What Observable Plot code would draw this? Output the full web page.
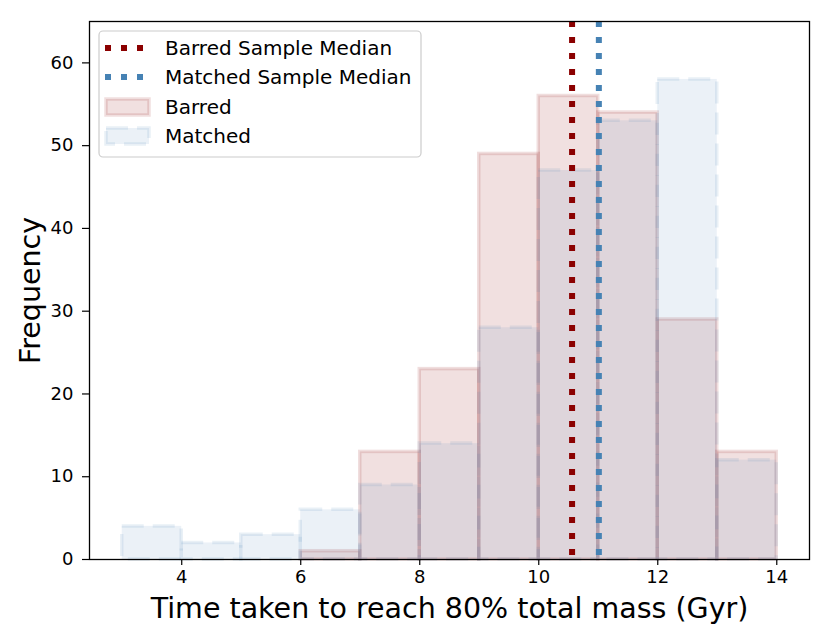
<!DOCTYPE html>
<html>
<head>
<meta charset="utf-8">
<script src="https://cdn.jsdelivr.net/npm/d3@7"></script>
<script src="https://cdn.jsdelivr.net/npm/@observablehq/plot@0.6"></script>
<style>
  html, body { margin: 0; padding: 0; background: white; }
  #chart { position: relative; width: 831px; height: 642px; }
</style>
</head>
<body>
<div id="chart"></div>
<script>
// ---- data ----
const binStarts = [3, 4, 5, 6, 7, 8, 9, 10, 11, 12, 13];
const binWidth = 1;
const barredCounts = [0, 0, 0, 1, 13, 23, 49, 56, 54, 29, 13];
const matchedCounts = [4, 2, 3, 6, 9, 14, 28, 47, 53, 58, 12];
const barredMedian = 10.56;
const matchedMedian = 11.01;
const xTicks = [4, 6, 8, 10, 12, 14];
const yTicks = [0, 10, 20, 30, 40, 50, 60];
const xLabel = "Time taken to reach 80% total mass (Gyr)";
const yLabel = "Frequency";
const legendLabels = ["Barred Sample Median", "Matched Sample Median", "Barred", "Matched"];

const barredColor = "#8b0000";
const matchedColor = "#4682b4";

const barred = binStarts.map((x, i) => ({x1: x, x2: x + binWidth, y: barredCounts[i]}));
const matched = binStarts.map((x, i) => ({x1: x, x2: x + binWidth, y: matchedCounts[i]}));

const plot = Plot.plot({
  width: 831,
  height: 642,
  marginLeft: 89,
  marginRight: 22,
  marginTop: 21,
  marginBottom: 83,
  style: {fontFamily: "DejaVu Sans", fontSize: "18px", color: "black", background: "white"},
  x: {domain: [2.45, 14.55], ticks: xTicks},
  y: {domain: [0, 65], ticks: yTicks},
  marks: [
    Plot.rectY(barred, {
      x1: "x1", x2: "x2", y1: 0, y2: "y",
      fill: barredColor, fillOpacity: 0.12,
      stroke: barredColor, strokeOpacity: 0.13, strokeWidth: 3.5
    }),
    Plot.rectY(matched, {
      x1: "x1", x2: "x2", y1: 0, y2: "y",
      fill: matchedColor, fillOpacity: 0.11,
      stroke: matchedColor, strokeOpacity: 0.12, strokeWidth: 3.5,
      strokeDasharray: "22,9"
    }),
    Plot.ruleX([barredMedian], {stroke: barredColor, strokeWidth: 6, strokeDasharray: "6,10"}),
    Plot.ruleX([matchedMedian], {stroke: matchedColor, strokeWidth: 6, strokeDasharray: "6,10"}),
    Plot.frame({stroke: "black", strokeWidth: 1.3}),
    Plot.axisX({ticks: xTicks, tickSize: 6, tickPadding: 5, label: null, fontSize: 18, strokeWidth: 1.2}),
    Plot.axisY({ticks: yTicks, tickSize: 7, tickPadding: 9, label: null, fontSize: 18, strokeWidth: 1.2}),
    Plot.text([xLabel], {frameAnchor: "bottom", lineAnchor: "middle", textAnchor: "middle",
      dy: 49, fontSize: 28.5, fill: "black"}),
    Plot.text([yLabel], {frameAnchor: "left", lineAnchor: "middle", textAnchor: "middle",
      rotate: -90, dx: -59, fontSize: 28.5, fill: "black"})
  ]
});

document.getElementById("chart").appendChild(plot);

// ---- legend (inside the axes, upper left) ----
const svg = d3.select(plot);
const lg = svg.append("g").attr("font-family", "DejaVu Sans").attr("font-size", 20)
  .attr("text-anchor", "start");
lg.append("rect")
  .attr("x", 99).attr("y", 31).attr("width", 322).attr("height", 126)
  .attr("rx", 4).attr("fill", "white").attr("fill-opacity", 0.8)
  .attr("stroke", "#cccccc").attr("stroke-width", 1.2);
const rows = [48, 77, 107, 136];
// median swatches
[[barredColor, rows[0]], [matchedColor, rows[1]]].forEach(([c, y]) => {
  lg.append("line").attr("x1", 105).attr("x2", 150).attr("y1", y).attr("y2", y)
    .attr("stroke", c).attr("stroke-width", 6).attr("stroke-dasharray", "6,10");
});
// patch swatches
lg.append("rect").attr("x", 106).attr("y", rows[2] - 8).attr("width", 43).attr("height", 16)
  .attr("fill", barredColor).attr("fill-opacity", 0.12)
  .attr("stroke", barredColor).attr("stroke-opacity", 0.13).attr("stroke-width", 3.5);
lg.append("rect").attr("x", 106).attr("y", rows[3] - 8).attr("width", 43).attr("height", 16)
  .attr("fill", matchedColor).attr("fill-opacity", 0.11)
  .attr("stroke", matchedColor).attr("stroke-opacity", 0.12).attr("stroke-width", 3.5)
  .attr("stroke-dasharray", "22,9");
legendLabels.forEach((t, i) => {
  lg.append("text").attr("x", 165).attr("y", rows[i]).attr("dy", "0.35em")
    .attr("fill", "black").attr("text-anchor", "start").text(t);
});
</script>
</body>
</html>
